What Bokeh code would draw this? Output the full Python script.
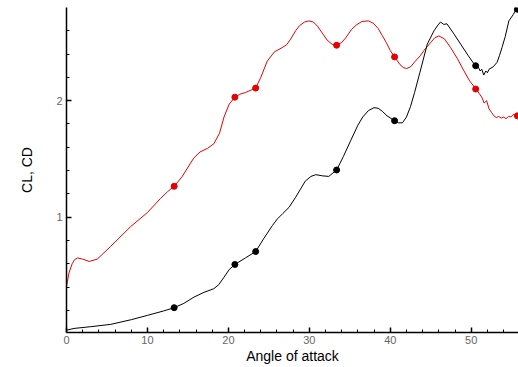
from bokeh.plotting import figure
from bokeh.models import FixedTicker, Range1d
from bokeh.embed import file_html
from bokeh.resources import INLINE

# CL (red) series
cl_x = [0, 0.3, 0.7, 1.0, 1.36, 2.0, 2.8, 3.8, 5.47, 7.94, 10.0, 11.6, 12.5, 13.3, 14.3, 15.26,
        15.75, 16.5, 17.4, 18.2, 18.9, 19.46, 20.1, 20.8, 21.4, 22.1, 23.37, 24.0, 24.8, 25.7,
        26.5, 27.2, 27.7, 28.3, 28.8, 29.4, 29.95, 30.5, 31.0, 31.6, 32.2, 32.8, 33.37, 34.0,
        34.5, 35.2, 35.8, 36.5, 37.3, 37.9, 38.5, 39.0, 39.5, 40.0,
        40.53, 41.2, 41.6, 42.0, 42.5, 43.1, 43.7, 44.15, 45.0, 45.5, 46.0, 46.7, 47.45, 48.3,
        49.1, 49.8, 50.6, 51.0, 51.3, 51.6, 51.9, 52.2, 52.5, 52.8, 53.1, 53.4, 53.7, 54.0,
        54.3, 54.6, 54.9, 55.26, 55.5, 55.84]
cl_y = [0.405, 0.52, 0.6, 0.635, 0.65, 0.64, 0.62, 0.64, 0.75, 0.92, 1.04, 1.16, 1.22, 1.265,
        1.35, 1.457, 1.51, 1.56, 1.59, 1.63, 1.72, 1.86, 1.97, 2.03, 2.055, 2.07, 2.108, 2.2,
        2.34, 2.42, 2.45, 2.48, 2.53, 2.6, 2.645, 2.675, 2.685, 2.675, 2.64, 2.58, 2.52, 2.485,
        2.476, 2.5, 2.54, 2.61, 2.65, 2.68, 2.685, 2.665, 2.62, 2.56, 2.5, 2.43,
        2.376, 2.31, 2.285, 2.276, 2.29, 2.34, 2.385, 2.43, 2.50, 2.54, 2.556, 2.53, 2.456,
        2.36, 2.256, 2.17, 2.10, 2.06, 2.03, 1.98, 2.00, 1.93, 1.90, 1.87, 1.855, 1.865, 1.85,
        1.86, 1.845, 1.865, 1.86, 1.885, 1.87, 1.87]

# CD (black) series
cd_x = [0, 0.94, 3, 5.47, 8, 10, 12, 13.3, 14.5, 15.75, 17, 18.2, 18.8, 19.46, 20.1, 20.8,
        22.1, 23.37, 24.4, 25.43, 26.05, 26.7, 27.5, 28.3, 28.9, 29.5, 30.2, 30.8, 31.6,
        32.4, 33.37, 34.2, 35.1, 36.0, 36.6, 37.3, 37.98, 38.5, 39.0, 39.6, 40.53, 41.0,
        41.5, 42.0, 42.5, 43.0, 43.65, 44.57, 45.4, 45.9, 46.2, 46.6, 47.0, 47.8, 48.7,
        49.6, 50.5, 50.9, 51.1, 51.3, 51.55, 51.8, 52.0, 52.2, 52.7, 53.2, 53.5, 53.8,
        54.2, 54.65, 55.2, 55.5, 55.84]
cd_y = [0.03, 0.045, 0.06, 0.08, 0.12, 0.157, 0.195, 0.223, 0.26, 0.314, 0.355, 0.386, 0.42,
        0.485, 0.55, 0.594, 0.65, 0.705, 0.82, 0.928, 0.985, 1.03, 1.085, 1.17, 1.24, 1.31,
        1.35, 1.365, 1.355, 1.35, 1.405, 1.52, 1.656, 1.79, 1.86, 1.915, 1.94, 1.935, 1.91,
        1.87, 1.828, 1.81, 1.81, 1.86, 1.95, 2.07, 2.24, 2.485, 2.6, 2.65, 2.675, 2.655,
        2.66, 2.58, 2.485, 2.39, 2.30, 2.285, 2.255, 2.27, 2.22, 2.255, 2.24, 2.27, 2.29,
        2.33, 2.39, 2.456, 2.55, 2.685, 2.74, 2.78, 2.79]

# Marker positions
mk_x = [13.3, 20.8, 23.37, 33.37, 40.53, 50.55, 55.7]
mk_cl = [1.265, 2.03, 2.108, 2.476, 2.376, 2.10, 1.87]
mk_cd = [0.223, 0.594, 0.705, 1.405, 1.828, 2.30, 2.785]

x_major = [0, 10, 20, 30, 40, 50]
x_minor = [2, 4, 6, 8, 12, 14, 16, 18, 22, 24, 26, 28, 32, 34, 36, 38, 42, 44, 46, 48, 52, 54]
y_major = [1, 2]
y_minor = [0.2, 0.4, 0.6, 0.8, 1.2, 1.4, 1.6, 1.8, 2.2, 2.4, 2.6]

p = figure(width=518, height=367, output_backend="svg", toolbar_location=None,
           x_range=Range1d(0, 55.84), y_range=Range1d(0.01, 2.8),
           min_border_left=66, min_border_right=0, min_border_top=7, min_border_bottom=35)
p.outline_line_color = None
p.xgrid.visible = False
p.ygrid.visible = False
p.background_fill_color = "white"
p.border_fill_color = "white"

p.line(cl_x, cl_y, line_color="#e60000", line_width=1)
p.line(cd_x, cd_y, line_color="black", line_width=1)
p.scatter(mk_x, mk_cl, size=6, fill_color="#e60000", line_color="#e60000")
p.scatter(mk_x, mk_cd, size=6, fill_color="black", line_color="black")

for ax, maj, mnr in ((p.xaxis[0], x_major, x_minor), (p.yaxis[0], y_major, y_minor)):
    ax.ticker = FixedTicker(ticks=maj, minor_ticks=mnr)
    ax.major_tick_in = 5
    ax.major_tick_out = 0
    ax.minor_tick_in = 3
    ax.minor_tick_out = 0
    ax.axis_line_color = "black"
    ax.axis_line_width = 1.5
    ax.major_tick_line_width = 1.5
    ax.major_tick_line_color = "black"
    ax.minor_tick_line_color = "black"
    ax.major_label_text_font = "Liberation Sans"
    ax.major_label_text_font_size = "11px"
    ax.major_label_text_color = "#666666"
    ax.axis_label_text_font = "Liberation Sans"
    ax.axis_label_text_font_size = "14px"
    ax.axis_label_text_font_style = "normal"
    ax.axis_label_text_color = "black"

p.xaxis.axis_label = "Angle of attack"
p.yaxis.axis_label = "CL, CD"
p.xaxis.major_label_standoff = 3
p.xaxis.axis_label_standoff = 1
p.yaxis.major_label_standoff = 4
p.yaxis.axis_label_standoff = 18

open("out.html", "w").write(file_html(p, INLINE))
